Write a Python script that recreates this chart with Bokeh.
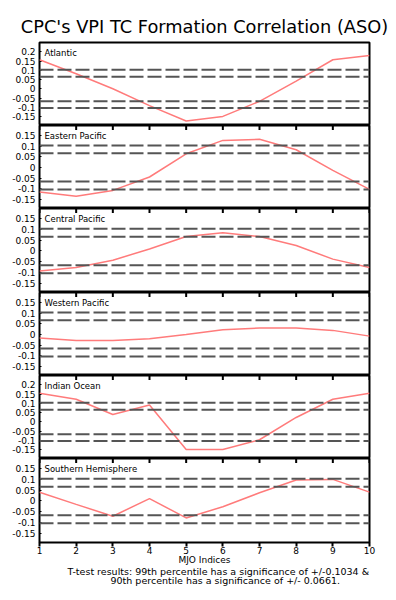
import numpy as np
from bokeh.plotting import figure
from bokeh.layouts import column
from bokeh.models import Span, Label, Title, FixedTicker, Range1d
from bokeh.embed import file_html
from bokeh.resources import INLINE

mjo_index = [1, 2, 3, 4, 5, 6, 7, 8, 9, 10]
regions = ["Atlantic", "Eastern Pacific", "Central Pacific",
           "Western Pacific", "Indian Ocean", "Southern Hemisphere"]
atlantic = [0.157, 0.082, 0.001, -0.090, -0.173, -0.148, -0.067, 0.042, 0.157, 0.180]
eastern_pacific = [-0.115, -0.135, -0.108, -0.045, 0.064, 0.127, 0.132, 0.083, -0.014, -0.103]
central_pacific = [-0.093, -0.077, -0.043, 0.009, 0.067, 0.084, 0.067, 0.025, -0.038, -0.077]
western_pacific = [-0.017, -0.028, -0.028, -0.020, 0.000, 0.022, 0.030, 0.030, 0.019, -0.008]
indian_ocean = [0.155, 0.122, 0.040, 0.091, -0.149, -0.149, -0.096, 0.024, 0.122, 0.155]
southern_hemisphere = [0.040, -0.016, -0.071, 0.011, -0.079, -0.027, 0.038, 0.097, 0.100, 0.041]
series = [atlantic, eastern_pacific, central_pacific, western_pacific, indian_ocean, southern_hemisphere]

sig99 = 0.1034
sig90 = 0.0661
y_ranges = [(-0.197, 0.25), (-0.193, 0.197), (-0.193, 0.197),
            (-0.193, 0.197), (-0.197, 0.25), (-0.193, 0.197)]
y_ticks_tall = [-0.15, -0.1, -0.05, 0, 0.05, 0.1, 0.15, 0.2]
y_ticks_short = [-0.15, -0.1, -0.05, 0, 0.05, 0.1, 0.15]
tick_text = {-0.15: "-0.15", -0.1: "-0.1", -0.05: "-0.05", 0: "0",
             0.05: "0.05", 0.1: "0.1", 0.15: "0.15", 0.2: "0.2"}
frame_heights = [83, 83, 84, 83, 83, 84]
note_lines = ["T-test results: 99th percentile has a significance of +/-0.1034 &",
              "90th percentile has a significance of +/- 0.0661."]

FONT = "DejaVu Sans"
figs = []
for i, (name, vals) in enumerate(zip(regions, series)):
    first = i == 0
    last = i == len(regions) - 1
    p = figure(frame_width=330, frame_height=frame_heights[i],
               output_backend="svg", toolbar_location=None,
               x_range=Range1d(1, 10), y_range=Range1d(*y_ranges[i]),
               min_border_left=39, min_border_right=22,
               min_border_top=42 if first else 0,
               min_border_bottom=52 if last else 0)
    p.background_fill_color = "white"
    p.border_fill_color = "white"
    p.outline_line_color = "black"
    p.outline_line_width = 2
    p.grid.visible = False
    if first:
        p.title.text = "CPC's VPI TC Formation Correlation (ASO)"
        p.title.align = "center"
        p.title.text_font = FONT
        p.title.text_font_size = "17.8px"
        p.title.text_font_style = "normal"
        p.title.text_color = "black"
        p.title.standoff = 11

    ticks = y_ticks_tall if y_ranges[i][1] > 0.22 else y_ticks_short
    p.yaxis.ticker = FixedTicker(ticks=ticks)
    p.yaxis.major_label_overrides = {t: tick_text[t] for t in ticks}
    p.yaxis.major_label_text_font = FONT
    p.yaxis.major_label_text_font_size = "9px"
    p.yaxis.major_label_text_color = "black"
    p.yaxis.major_tick_in = 2
    p.yaxis.major_tick_out = 0
    p.yaxis.minor_tick_line_color = None
    p.yaxis.axis_line_color = None
    p.yaxis.major_label_standoff = 4

    if last:
        p.xaxis.ticker = FixedTicker(ticks=mjo_index)
        p.xaxis.major_label_text_font = FONT
        p.xaxis.major_label_text_font_size = "9px"
        p.xaxis.major_label_text_color = "black"
        p.xaxis.major_tick_in = 0
        p.xaxis.major_tick_out = 4
        p.xaxis.major_tick_line_width = 2
        p.xaxis.minor_tick_line_color = None
        p.xaxis.axis_line_color = None
        p.xaxis.major_label_standoff = 0
        p.xaxis.axis_label = "MJO Indices"
        p.xaxis.axis_label_text_font = FONT
        p.xaxis.axis_label_text_font_size = "9px"
        p.xaxis.axis_label_text_font_style = "normal"
        p.xaxis.axis_label_text_color = "black"
        p.xaxis.axis_label_standoff = -2
        for txt, xo, so in zip(note_lines, (28, 71), (-7, -2)):
            p.add_layout(Title(text=txt, align="left", offset=xo,
                               text_font=FONT, text_font_size="9.5px",
                               text_font_style="normal", text_color="black",
                               standoff=so), "below")
    else:
        p.xaxis.visible = False

    if not first:
        # ticks of the panel above, reaching into this panel's top edge
        p.scatter(mjo_index, [y_ranges[i][1]] * len(mjo_index), marker="dash",
                  angle=np.pi / 2, size=9, line_color="black", line_width=2)

    for lvl in (sig99, sig90, -sig90, -sig99):
        p.add_layout(Span(location=lvl, dimension="width", line_color="#555555",
                          line_width=2, line_dash="14 4"))

    p.line(mjo_index, vals, line_color="#ff7b7b", line_width=1.5)

    p.add_layout(Label(x=mjo_index[0], y=y_ranges[i][1], x_offset=5, y_offset=-5,
                       text=name, text_baseline="top", text_font=FONT,
                       text_font_size="8.5px", text_color="black"))
    figs.append(p)

layout = column(*figs, spacing=0)
open("out.html", "w").write(file_html(layout, INLINE))
